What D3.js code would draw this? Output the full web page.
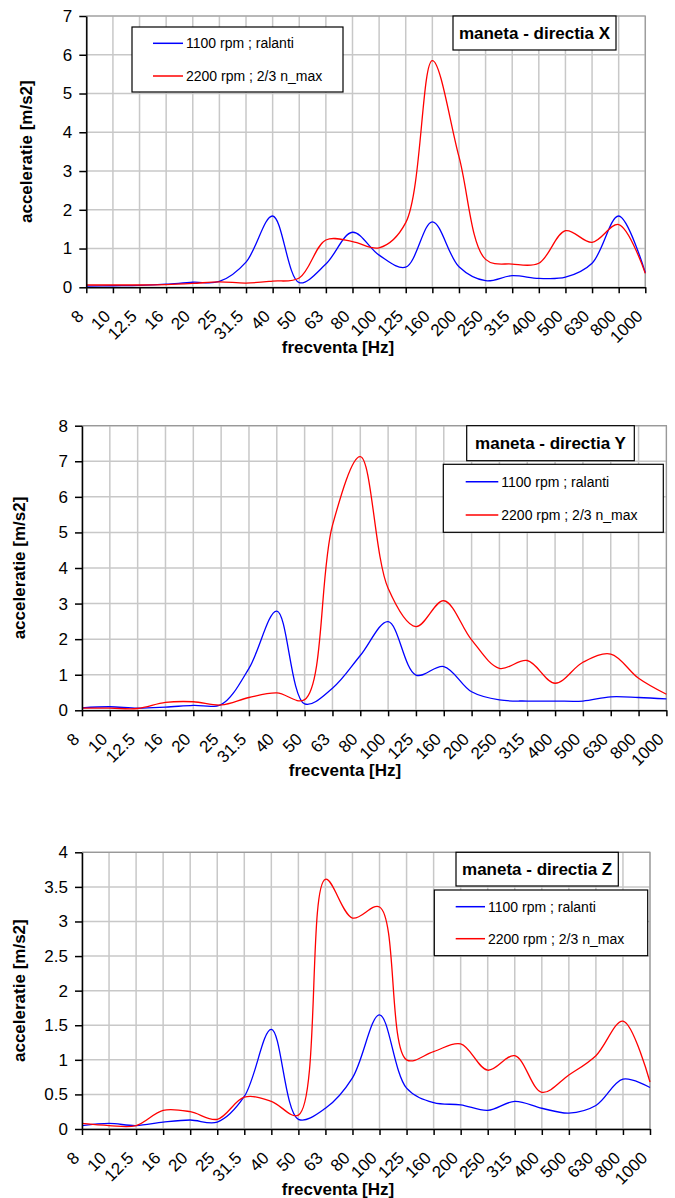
<!DOCTYPE html>
<html>
<head>
<meta charset="utf-8">
<script src="https://cdn.jsdelivr.net/npm/d3@7"></script>
<style>
	body { margin: 0; background: #fff; }
	text { font-family: "Liberation Sans", Arial, sans-serif; fill: #000; }
	.grid line { stroke: #c8c8c8; stroke-width: 1.5; }
	.axis path, .axis line { stroke: #000; stroke-width: 1.5; }
	.axis text { font-size: 17px; }
	.axis-title { font-size: 17px; font-weight: bold; }
	.box { fill: #fff; stroke: #000; stroke-width: 1.2; }
	.box-title { font-size: 17px; font-weight: bold; }
	.legend-label { font-size: 14px; }
	.series { fill: none; stroke-width: 1.3; }
</style>
</head>
<body>
<script>
(function () {
	// categories (1/3 octave bands)
	var freqLabels = ["8", "10", "12.5", "16", "20", "25", "31.5", "40", "50", "63", "80", "100", "125", "160", "200", "250", "315", "400", "500", "630", "800", "1000"];
	var legendLabels = ["1100 rpm ; ralanti", "2200 rpm ; 2/3 n_max"];
	var seriesColors = ["#0000ff", "#ff0000"];

	// y tick labels
	var xDirTicks = [0, 1, 2, 3, 4, 5, 6, 7];
	var yDirTicks = [0, 1, 2, 3, 4, 5, 6, 7, 8];
	var zDirTicks = [0, 0.5, 1, 1.5, 2, 2.5, 3, 3.5, 4];

	// directia X
	var xBlue = [0.03, 0.04, 0.05, 0.08, 0.13, 0.15, 0.65, 1.84, 0.12, 0.6, 1.42, 0.83, 0.52, 1.69, 0.53, 0.17, 0.3, 0.23, 0.26, 0.62, 1.84, 0.38];
	var xRed = [0.06, 0.06, 0.06, 0.07, 0.1, 0.14, 0.11, 0.16, 0.24, 1.22, 1.18, 1.02, 1.67, 5.85, 3.37, 0.72, 0.6, 0.62, 1.46, 1.16, 1.62, 0.36];
	// directia Y
	var yBlue = [0.07, 0.1, 0.06, 0.09, 0.14, 0.16, 1.18, 2.79, 0.18, 0.62, 1.54, 2.49, 0.99, 1.23, 0.52, 0.29, 0.26, 0.26, 0.26, 0.38, 0.36, 0.32];
	var yRed = [0.06, 0.06, 0.05, 0.22, 0.24, 0.15, 0.36, 0.49, 0.3, 5.2, 7.13, 3.43, 2.35, 3.08, 1.98, 1.18, 1.4, 0.76, 1.35, 1.58, 0.9, 0.45];
	// directia Z
	var zBlue = [0.05, 0.08, 0.05, 0.1, 0.13, 0.1, 0.47, 1.44, 0.14, 0.3, 0.74, 1.65, 0.59, 0.38, 0.35, 0.27, 0.4, 0.3, 0.23, 0.34, 0.72, 0.6];
	var zRed = [0.08, 0.05, 0.05, 0.27, 0.25, 0.14, 0.46, 0.4, 0.2, 3.61, 3.05, 3.21, 1.0, 1.12, 1.23, 0.85, 1.06, 0.53, 0.78, 1.06, 1.56, 0.68];

	var svg = d3.select("body").append("svg")
		.attr("width", 675)
		.attr("height", 1198);

	drawChart({
		left: 86.3, right: 645.3, top: 16, bottom: 287.3,
		ticks: xDirTicks, series: [xBlue, xRed],
		title: "maneta - directia X", titleBox: [453, 16, 163, 34],
		legendBox: [132, 27, 211, 65], legendLine: [153, 183], legendRows: [43.3, 76],
		yTitleX: 26, xTitleX: 338
	});
	drawChart({
		left: 82, right: 666.4, top: 425.7, bottom: 710.3,
		ticks: yDirTicks, series: [yBlue, yRed],
		title: "maneta - directia Y", titleBox: [466.7, 425.7, 167.6, 35],
		legendBox: [443.3, 464.3, 220, 68], legendLine: [465.7, 498.3], legendRows: [481.7, 515],
		yTitleX: 19, xTitleX: 345
	});
	drawChart({
		left: 82, right: 650, top: 852.3, bottom: 1129,
		ticks: zDirTicks, series: [zBlue, zRed],
		title: "maneta - directia Z", titleBox: [456, 852.3, 162.3, 33.7],
		legendBox: [434.3, 890, 213.4, 65.7], legendLine: [455.7, 485], legendRows: [906.7, 938.7],
		yTitleX: 19.5, xTitleX: 338
	});

	function drawChart(c) {
		var g = svg.append("g");
		var x = d3.scalePoint().domain(freqLabels).range([c.left, c.right]);
		var y = d3.scaleLinear().domain([0, d3.max(c.ticks)]).range([c.bottom, c.top]);

		// gridlines
		var grid = g.append("g").attr("class", "grid");
		grid.selectAll(".h").data(c.ticks).enter().append("line")
			.attr("x1", c.left).attr("x2", c.right)
			.attr("y1", function (d) { return y(d); })
			.attr("y2", function (d) { return y(d); });
		grid.selectAll(".v").data(freqLabels).enter().append("line")
			.attr("x1", function (d) { return x(d); })
			.attr("x2", function (d) { return x(d); })
			.attr("y1", c.top).attr("y2", c.bottom);
		g.append("path")
			.attr("d", "M" + c.left + "," + c.top + "H" + c.right + "V" + c.bottom)
			.attr("fill", "none").attr("stroke", "#999").attr("stroke-width", 1.2);

		// series
		var line = d3.line()
			.x(function (d, i) { return x(freqLabels[i]); })
			.y(function (d) { return y(d); })
			.curve(d3.curveCatmullRom);
		c.series.forEach(function (s, k) {
			g.append("path")
				.attr("class", "series")
				.attr("stroke", seriesColors[k])
				.attr("d", line(s));
		});

		// axes
		var xAxis = g.append("g").attr("class", "axis")
			.attr("transform", "translate(0," + c.bottom + ")")
			.call(d3.axisBottom(x).tickSizeInner(6).tickSizeOuter(0));
		xAxis.selectAll("text")
			.attr("x", 0).attr("y", 0).attr("dy", 0)
			.attr("transform", "translate(-2,30) rotate(-45)")
			.style("text-anchor", "end");

		g.append("g").attr("class", "axis")
			.attr("transform", "translate(" + c.left + ",0)")
			.call(d3.axisLeft(y).tickValues(c.ticks).tickFormat(function (d) { return String(d); })
				.tickSizeInner(7).tickSizeOuter(0).tickPadding(7));
		g.selectAll(".axis .domain").attr("stroke", "#000");

		g.append("text").attr("class", "axis-title")
			.attr("transform", "translate(" + c.yTitleX + "," + ((c.top + c.bottom) / 2) + ") rotate(-90)")
			.attr("dy", "0.35em")
			.attr("text-anchor", "middle")
			.text("acceleratie [m/s2]");
		g.append("text").attr("class", "axis-title")
			.attr("x", c.xTitleX).attr("y", c.bottom + 66)
			.attr("text-anchor", "middle")
			.text("frecventa [Hz]");

		// title box
		var tb = c.titleBox;
		g.append("rect").attr("class", "box")
			.attr("x", tb[0]).attr("y", tb[1]).attr("width", tb[2]).attr("height", tb[3]);
		g.append("text").attr("class", "box-title")
			.attr("x", tb[0] + tb[2] / 2).attr("y", tb[1] + tb[3] / 2)
			.attr("dy", "0.35em").attr("text-anchor", "middle")
			.text(c.title);

		// legend
		var lb = c.legendBox;
		g.append("rect").attr("class", "box")
			.attr("x", lb[0]).attr("y", lb[1]).attr("width", lb[2]).attr("height", lb[3]);
		var rows = g.selectAll(".legend").data(legendLabels).enter().append("g")
			.attr("class", "legend");
		rows.append("line")
			.attr("x1", c.legendLine[0]).attr("x2", c.legendLine[1])
			.attr("y1", function (d, i) { return c.legendRows[i]; })
			.attr("y2", function (d, i) { return c.legendRows[i]; })
			.attr("stroke", function (d, i) { return seriesColors[i]; })
			.attr("stroke-width", 1.5);
		rows.append("text").attr("class", "legend-label")
			.attr("x", c.legendLine[1] + 3)
			.attr("y", function (d, i) { return c.legendRows[i]; })
			.attr("dy", "0.35em")
			.text(function (d) { return d; });
	}
})();
</script>
</body>
</html>
